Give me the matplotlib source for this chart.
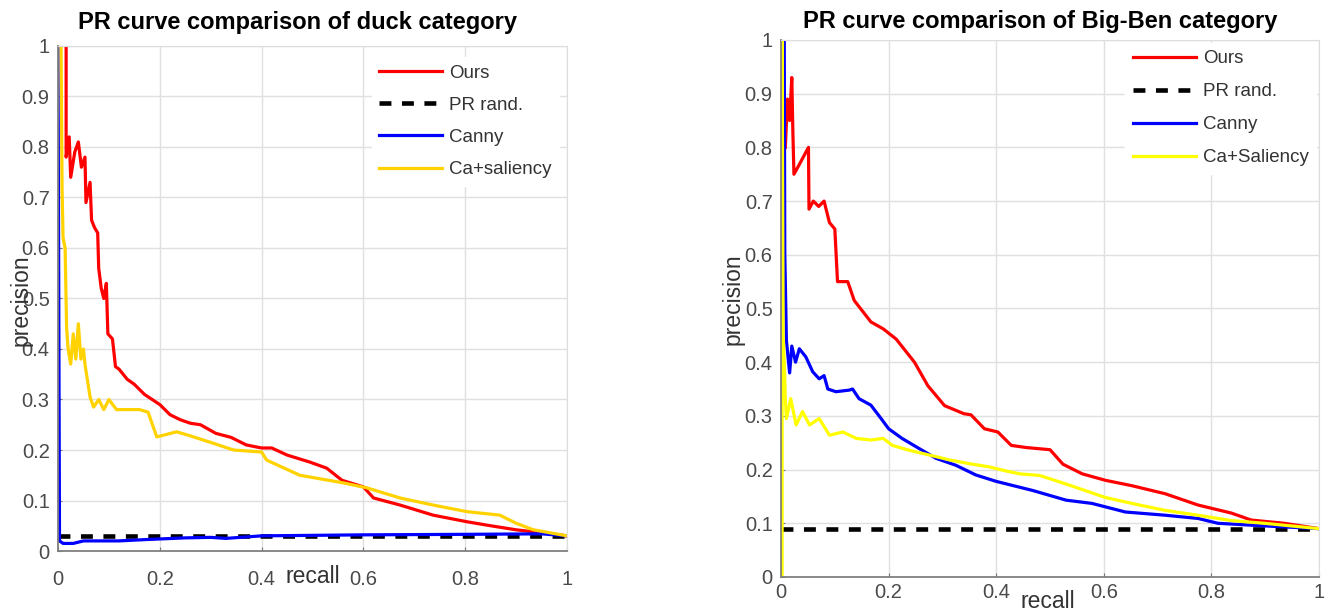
import matplotlib
matplotlib.use("Agg")
import matplotlib.pyplot as plt

plt.rcParams['font.family'] = ['Liberation Sans', 'DejaVu Sans']

# --- duck category ---
duck_ours_x = [0.016, 0.016, 0.022, 0.025, 0.033, 0.040, 0.046, 0.053, 0.055, 0.063, 0.066,
               0.072, 0.078, 0.080, 0.085, 0.090, 0.095, 0.098, 0.107, 0.113, 0.120, 0.136,
               0.150, 0.170, 0.185, 0.200, 0.220, 0.240, 0.260, 0.280, 0.310, 0.340, 0.370,
               0.400, 0.420, 0.450, 0.495, 0.528, 0.558, 0.600, 0.620, 0.672, 0.737, 0.803,
               0.850, 0.900, 0.967, 1.000]
duck_ours_y = [1.00, 0.78, 0.82, 0.74, 0.79, 0.81, 0.76, 0.78, 0.69, 0.73, 0.655,
               0.64, 0.63, 0.56, 0.52, 0.50, 0.53, 0.43, 0.42, 0.365, 0.36, 0.34,
               0.33, 0.31, 0.30, 0.29, 0.27, 0.26, 0.253, 0.25, 0.233, 0.225, 0.21,
               0.204, 0.204, 0.19, 0.176, 0.164, 0.14, 0.127, 0.105, 0.091, 0.071, 0.058,
               0.05, 0.042, 0.034, 0.03]

duck_canny_x = [0.0, 0.003, 0.010, 0.030, 0.050, 0.080, 0.120, 0.180, 0.250, 0.300, 0.330,
                0.400, 0.500, 0.600, 0.800, 0.950, 1.000]
duck_canny_y = [1.00, 0.02, 0.015, 0.015, 0.02, 0.02, 0.02, 0.023, 0.026, 0.027, 0.025,
                0.03, 0.031, 0.032, 0.033, 0.034, 0.03]

duck_sal_x = [0.006, 0.008, 0.010, 0.014, 0.017, 0.020, 0.025, 0.030, 0.035, 0.040, 0.045,
              0.050, 0.053, 0.063, 0.070, 0.080, 0.090, 0.100, 0.115, 0.140, 0.160, 0.177,
              0.194, 0.210, 0.233, 0.260, 0.300, 0.345, 0.400, 0.410, 0.475, 0.560, 0.607,
              0.672, 0.737, 0.803, 0.868, 0.900, 0.934, 1.000]
duck_sal_y = [1.00, 0.72, 0.62, 0.60, 0.44, 0.40, 0.37, 0.43, 0.38, 0.45, 0.38,
              0.40, 0.37, 0.305, 0.285, 0.30, 0.28, 0.30, 0.28, 0.28, 0.28, 0.275,
              0.226, 0.23, 0.236, 0.228, 0.215, 0.20, 0.196, 0.18, 0.15, 0.135, 0.125,
              0.105, 0.091, 0.078, 0.071, 0.055, 0.042, 0.03]

duck_rand = 0.03

# --- Big-Ben category ---
bb_ours_x = [0.008, 0.012, 0.016, 0.020, 0.022, 0.024, 0.035, 0.051, 0.052, 0.060, 0.070,
             0.080, 0.090, 0.100, 0.105, 0.124, 0.136, 0.167, 0.190, 0.214, 0.248, 0.273,
             0.304, 0.340, 0.353, 0.378, 0.403, 0.428, 0.456, 0.500, 0.524, 0.560, 0.603,
             0.652, 0.714, 0.775, 0.837, 0.874, 0.935, 1.000]
bb_ours_y = [0.80, 0.89, 0.85, 0.93, 0.83, 0.75, 0.77, 0.80, 0.685, 0.70, 0.69,
             0.70, 0.66, 0.648, 0.55, 0.55, 0.515, 0.475, 0.462, 0.443, 0.40, 0.356,
             0.319, 0.304, 0.302, 0.276, 0.27, 0.245, 0.241, 0.237, 0.21, 0.192, 0.18,
             0.17, 0.155, 0.134, 0.119, 0.106, 0.10, 0.09]

bb_canny_x = [0.006, 0.007, 0.008, 0.010, 0.016, 0.020, 0.027, 0.034, 0.046, 0.059, 0.071,
              0.080, 0.087, 0.102, 0.127, 0.133, 0.145, 0.167, 0.186, 0.200, 0.225, 0.257,
              0.288, 0.325, 0.362, 0.400, 0.468, 0.530, 0.578, 0.640, 0.714, 0.775, 0.812,
              0.900, 1.000]
bb_canny_y = [1.00, 0.60, 0.55, 0.44, 0.38, 0.43, 0.40, 0.425, 0.41, 0.382, 0.369,
              0.375, 0.35, 0.345, 0.348, 0.35, 0.332, 0.32, 0.295, 0.276, 0.258, 0.239,
              0.221, 0.208, 0.19, 0.178, 0.161, 0.143, 0.137, 0.121, 0.115, 0.109, 0.10,
              0.095, 0.09]

bb_sal_x = [0.002, 0.002, 0.004, 0.006, 0.008, 0.010, 0.018, 0.028, 0.040, 0.053, 0.071,
            0.090, 0.115, 0.140, 0.167, 0.190, 0.207, 0.238, 0.276, 0.313, 0.350, 0.387,
            0.420, 0.444, 0.481, 0.530, 0.603, 0.652, 0.714, 0.775, 0.837, 0.898, 1.000]
bb_sal_y = [0.0, 1.0, 0.45, 0.40, 0.33, 0.295, 0.332, 0.283, 0.308, 0.283, 0.295,
            0.264, 0.27, 0.258, 0.255, 0.258, 0.245, 0.236, 0.227, 0.218, 0.211, 0.205,
            0.197, 0.192, 0.189, 0.173, 0.148, 0.137, 0.124, 0.115, 0.105, 0.10, 0.09]

bb_rand = 0.09

recall_span = [0.0, 1.0]
x_ticks = [0, 0.2, 0.4, 0.6, 0.8, 1]
x_ticklabels = ['0', '0.2', '0.4', '0.6', '0.8', '1']
y_ticks = [0, 0.1, 0.2, 0.3, 0.4, 0.5, 0.6, 0.7, 0.8, 0.9, 1]
y_ticklabels = ['0', '0.1', '0.2', '0.3', '0.4', '0.5', '0.6', '0.7', '0.8', '0.9', '1']


def draw_panel(ax, title, ours, rand, canny, sal, sal_label, sal_color,
               title_x, title_pad, xpad, xlabel_pos, ylabel_pos, legend_anchor, spacing):
    ax.plot(ours[0], ours[1], color='#ff0000', lw=2.3, label='Ours')
    ax.plot(recall_span, [rand, rand], color='black', lw=3.3, ls=(0, (2.6, 2.3)), label='PR rand.')
    ax.plot(canny[0], canny[1], color='#0000ff', lw=2.3, label='Canny')
    ax.plot(sal[0], sal[1], color=sal_color, lw=2.3, label=sal_label)

    ax.set_xlim(0, 1)
    ax.set_ylim(0, 1)
    ax.set_xticks(x_ticks)
    ax.set_xticklabels(x_ticklabels)
    ax.set_yticks(y_ticks)
    ax.set_yticklabels(y_ticklabels)
    ax.grid(True, color='#e0e0e0', lw=1.0)
    ax.set_axisbelow(True)
    ax.tick_params(direction='in', length=3, color='#777777', labelcolor='#4a4a4a', labelsize=14.5)
    ax.tick_params(axis='x', pad=xpad)
    ax.tick_params(axis='y', pad=6)
    for side in ['top', 'right']:
        ax.spines[side].set_color('#dddddd')
    for side in ['bottom', 'left']:
        ax.spines[side].set_color('#808080')
        ax.spines[side].set_linewidth(1.3)

    ax.set_title(title, fontsize=17, fontweight='bold', pad=title_pad, x=title_x)
    ax.set_xlabel('recall', fontsize=16.5, color='#333333', va='center')
    ax.xaxis.set_label_coords(*xlabel_pos)
    ax.set_ylabel('precision', fontsize=16.5, color='#333333', va='center')
    ax.yaxis.set_label_coords(*ylabel_pos)

    leg = ax.legend(loc='upper left', bbox_to_anchor=legend_anchor, borderaxespad=0,
                    fontsize=13.5, handlelength=3.36, handletextpad=0.37, labelspacing=spacing,
                    frameon=True, fancybox=False, framealpha=1.0)
    leg.get_frame().set_edgecolor('white')
    for text in leg.get_texts():
        text.set_color('#333333')


fig = plt.figure(figsize=(13.36, 6.14), dpi=100)
ax1 = fig.add_axes([0.0434, 0.1026, 0.381, 0.8225])
ax2 = fig.add_axes([0.5846, 0.0603, 0.4027, 0.8746])

draw_panel(ax1, 'PR curve comparison of duck category',
           (duck_ours_x, duck_ours_y), duck_rand, (duck_canny_x, duck_canny_y),
           (duck_sal_x, duck_sal_y), 'Ca+saliency', '#ffd200',
           title_x=0.47, title_pad=12, xpad=14, xlabel_pos=(0.5, -0.051),
           ylabel_pos=(-0.073, 0.497), legend_anchor=(0.616, 0.978), spacing=0.8)

draw_panel(ax2, 'PR curve comparison of Big-Ben category',
           (bb_ours_x, bb_ours_y), bb_rand, (bb_canny_x, bb_canny_y),
           (bb_sal_x, bb_sal_y), 'Ca+Saliency', '#ffff00',
           title_x=0.481, title_pad=8.5, xpad=4, xlabel_pos=(0.496, -0.046),
           ylabel_pos=(-0.089, 0.518), legend_anchor=(0.64, 0.995), spacing=0.85)

fig.savefig('out.png', dpi=100, facecolor='white')
